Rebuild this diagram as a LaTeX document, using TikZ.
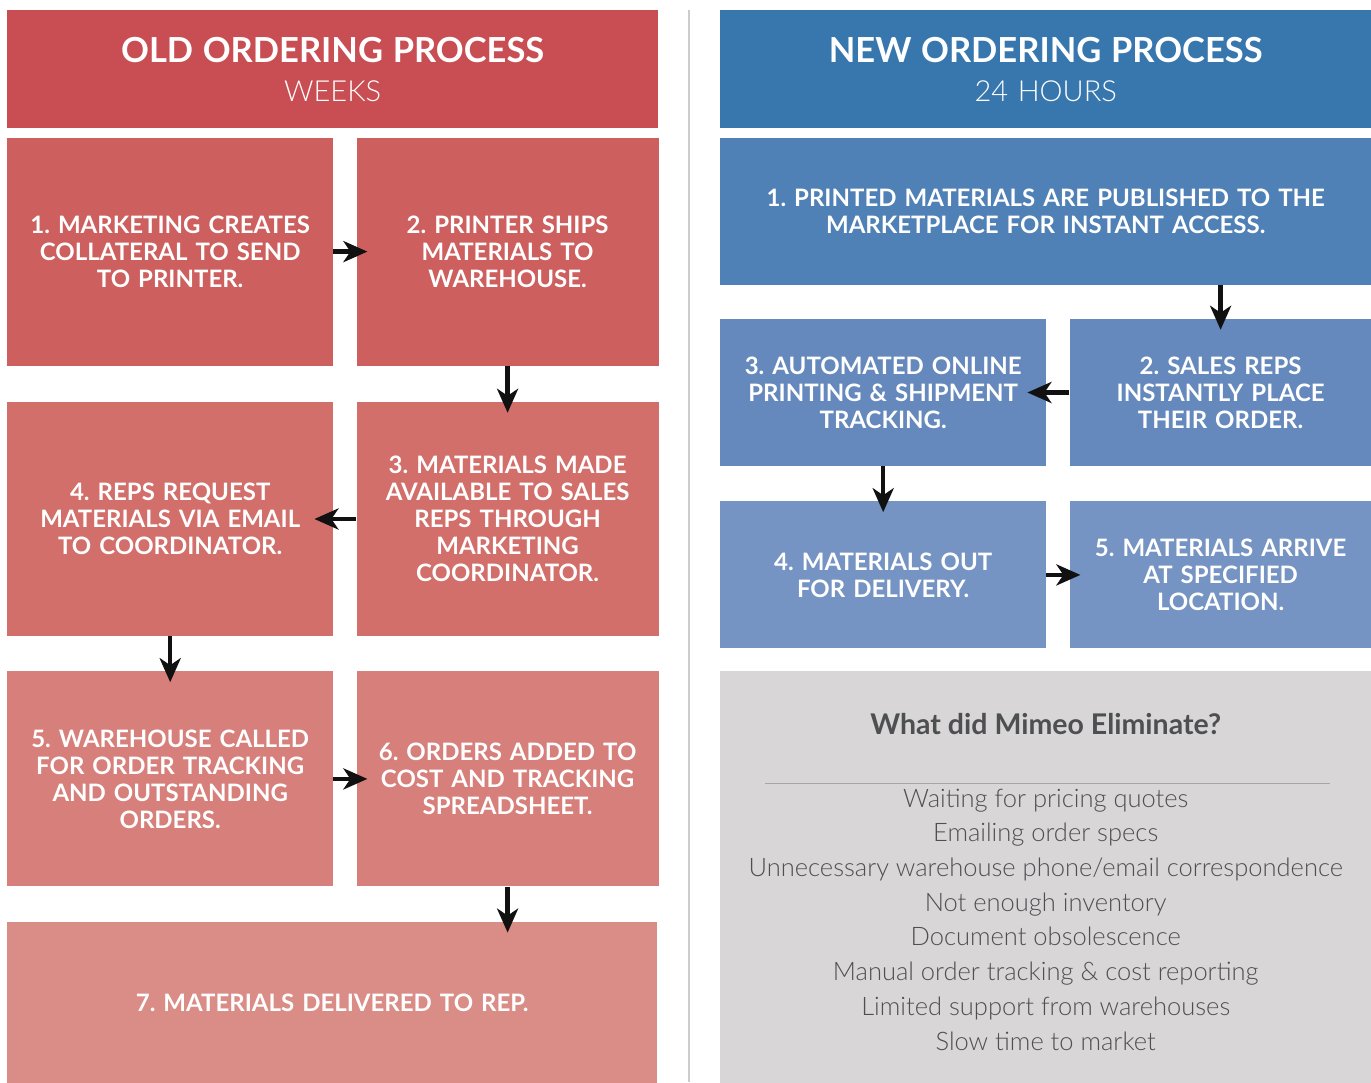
\documentclass[tikz,border=0pt]{standalone}
\usepackage{fontspec}
\setmainfont{Lato}
\newfontfamily\lightfont{Lato Light}
\usepackage{xcolor}
\usetikzlibrary{positioning, arrows.meta}
\definecolor{oldHead}{HTML}{C84E53}
\definecolor{oldA}{HTML}{CD5F5E}
\definecolor{oldB}{HTML}{D26F6B}
\definecolor{oldC}{HTML}{D77F7A}
\definecolor{oldD}{HTML}{DA8C86}
\definecolor{newHead}{HTML}{3777AE}
\definecolor{newA}{HTML}{4F80B6}
\definecolor{newB}{HTML}{6589BC}
\definecolor{newC}{HTML}{7594C3}
\definecolor{elimGray}{HTML}{D8D6D7}
\definecolor{elimText}{HTML}{4E4F51}
\definecolor{arrowBlack}{HTML}{111111}

\begin{document}
\frenchspacing
\begin{tikzpicture}[
  x=1pt, y=-1pt,
  every node/.style={inner sep=0pt, align=center},
  headbox/.style={
    rectangle,
    text=white,
    text width=651pt,
    minimum height=118pt,
    font=\lightfont\fontsize{29}{39}\selectfont
  },
  stepbox/.style={
    rectangle,
    text=white,
    font=\bfseries\fontsize{24}{27}\selectfont
  },
  arrow/.style={
    -{Stealth[length=24pt, width=21pt, inset=7pt]},
    line width=4.5pt,
    draw=arrowBlack,
    shorten >=-11pt
  },
  backarrow/.style={arrow, shorten >=-19pt}
]
  \useasboundingbox (0,0) rectangle (1371,1082);

  % Old process
  \node[headbox, fill=oldHead, anchor=north west] (oldhead) at (7,10)
    {{\normalfont\bfseries\fontsize{34.5}{39}\selectfont OLD ORDERING PROCESS}\\WEEKS};
  \node[stepbox, fill=oldA, text width=326pt, minimum height=228pt, below=9pt of oldhead.south west, anchor=north west] (o1)
    {1. MARKETING CREATES\\COLLATERAL TO SEND\\TO PRINTER.};
  \node[stepbox, fill=oldA, text width=302pt, minimum height=228pt, right=23pt of o1] (o2)
    {2. PRINTER SHIPS\\MATERIALS TO\\WAREHOUSE.};
  \node[stepbox, fill=oldB, text width=326pt, minimum height=234pt, below=36pt of o1] (o4)
    {4. REPS REQUEST\\MATERIALS VIA EMAIL\\TO COORDINATOR.};
  \node[stepbox, fill=oldB, text width=302pt, minimum height=234pt, right=23pt of o4] (o3)
    {3. MATERIALS MADE\\AVAILABLE TO SALES\\REPS THROUGH\\MARKETING\\COORDINATOR.};
  \node[stepbox, fill=oldC, text width=326pt, minimum height=215pt, below=35pt of o4] (o5)
    {5. WAREHOUSE CALLED\\FOR ORDER TRACKING\\AND OUTSTANDING\\ORDERS.};
  \node[stepbox, fill=oldC, text width=302pt, minimum height=215pt, right=23pt of o5] (o6)
    {6. ORDERS ADDED TO\\COST AND TRACKING\\SPREADSHEET.};
  \node[stepbox, fill=oldD, text width=650pt, minimum height=162pt, below=35pt of o5.south west, anchor=north west] (o7)
    {7. MATERIALS DELIVERED TO REP.};

  % Divider
  \draw[color=black!20, line width=1.5pt] (689,10) -- (689,1082);

  % New process
  \node[headbox, fill=newHead, anchor=north west] (newhead) at (720,10)
    {{\normalfont\bfseries\fontsize{34.5}{39}\selectfont NEW ORDERING PROCESS}\\24 HOURS};
  \node[stepbox, fill=newA, text width=651pt, minimum height=147pt, below=9pt of newhead] (n1)
    {1. PRINTED MATERIALS ARE PUBLISHED TO THE\\MARKETPLACE FOR INSTANT ACCESS.};
  \node[stepbox, fill=newB, text width=326pt, minimum height=147pt, below=34pt of n1.south west, anchor=north west] (n3)
    {3. AUTOMATED ONLINE\\PRINTING \& SHIPMENT\\TRACKING.};
  \node[stepbox, fill=newB, text width=302pt, minimum height=147pt, right=23pt of n3] (n2)
    {2. SALES REPS\\INSTANTLY PLACE\\THEIR ORDER.};
  \node[stepbox, fill=newC, text width=326pt, minimum height=147pt, below=35pt of n3] (n4)
    {4. MATERIALS OUT\\FOR DELIVERY.};
  \node[stepbox, fill=newC, text width=302pt, minimum height=147pt, right=23pt of n4] (n5)
    {5. MATERIALS ARRIVE\\AT SPECIFIED\\LOCATION.};

  % What was eliminated
  \node[rectangle, fill=elimGray, text width=651pt, minimum height=413pt, below=22pt of n4.south west, anchor=north west] (elim) {};
  \node[text=elimText, font=\bfseries\fontsize{28.5}{32}\selectfont, anchor=base] (elimtitle) at ([yshift=-64pt]elim.north)
    {What did Mimeo Eliminate?};
  \draw[color=black!35, line width=1pt] ([xshift=45pt, yshift=-113pt]elim.north west) -- ([xshift=-41pt, yshift=-113pt]elim.north east);
  \node[text=elimText, font=\lightfont\fontsize{25.5}{34.7}\selectfont, anchor=north] (elimlist) at ([yshift=-118pt]elim.north)
    {Waiting for pricing quotes\\Emailing order specs\\Unnecessary warehouse phone/email correspondence\\Not enough inventory\\Document obsolescence\\Manual order tracking \& cost reporting\\Limited support from warehouses\\Slow time to market};

  % Connect nodes with arrows
  \draw[arrow] (o1.east) -- (o2.west);
  \draw[arrow] (o2.south) -- (o3.north);
  \draw[backarrow] (o3.west) -- (o4.east);
  \draw[arrow] (o4.south) -- (o5.north);
  \draw[arrow] (o5.east) -- (o6.west);
  \draw[arrow] (o6.south) -- (o6.south |- o7.north);
  \draw[arrow] (n2.north |- n1.south) -- (n2.north);
  \draw[backarrow] (n2.west) -- (n3.east);
  \draw[arrow] (n3.south) -- (n4.north);
  \draw[arrow] (n4.east) -- (n5.west);
\end{tikzpicture}
\end{document}
